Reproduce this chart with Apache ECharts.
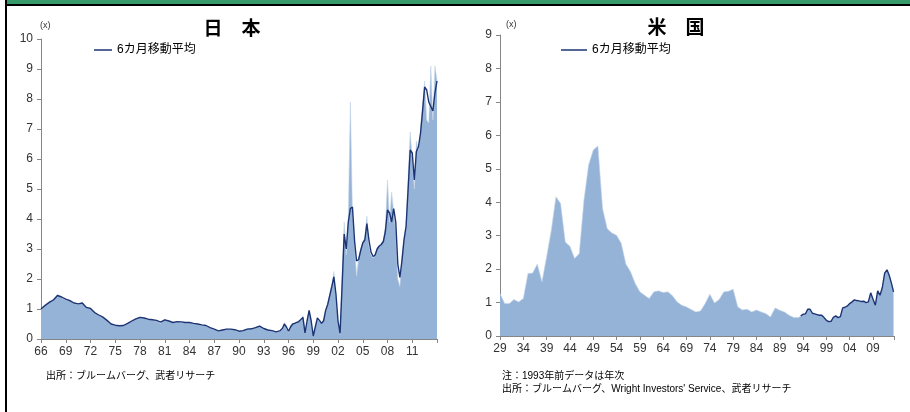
<!DOCTYPE html>
<html><head><meta charset="utf-8">
<script src="https://cdn.jsdelivr.net/npm/echarts@6/dist/echarts.min.js"></script>
<style>
html,body{margin:0;padding:0;background:#fff;}
#c{position:absolute;left:0;top:0;width:910px;height:412px;}
</style></head><body><div id="c"></div>
<script>
// ---- Japan (monthly data sampled; dates as decimal years) ----
const jpDates = [1966,1966.5,1967,1967.5,1968,1968.5,1969,1969.5,1970,1970.5,1971,1971.5,1972,1972.5,1973,1973.5,1974,1974.5,1975,1975.5,1976,1976.5,1977,1977.5,1978,1978.5,1979,1979.5,1980,1980.5,1981,1981.5,1982,1982.5,1983,1983.5,1984,1984.5,1985,1985.5,1986,1986.5,1987,1987.5,1988,1988.5,1989,1989.5,1990,1990.5,1991,1991.5,1992,1992.5,1993,1993.5,1994,1994.5,1995,
1995.25,1995.5,1995.75,1996,1996.25,1996.5,1996.75,1997,1997.25,1997.5,1997.75,1998,1998.25,1998.5,1998.75,1999,1999.25,1999.5,1999.75,2000,2000.25,2000.5,2000.75,2001,2001.25,2001.5,2001.75,2002,2002.25,2002.5,2002.75,2003,2003.25,2003.5,2003.75,2004,2004.25,2004.5,2004.75,2005,2005.25,2005.5,2005.75,2006,2006.25,2006.5,2006.75,2007,2007.25,2007.5,2007.75,2008,2008.25,2008.5,2008.75,2009,2009.25,2009.5,2009.75,2010,2010.25,2010.5,2010.75,2011,2011.25,2011.5,2011.75,2012,2012.25,2012.5,2012.75,2013,2013.25,2013.5,2013.75,2014];
const jpRatio = [0.98,1.10,1.25,1.32,1.48,1.38,1.30,1.30,1.18,1.15,1.22,1.02,1.04,0.86,0.79,0.72,0.60,0.49,0.45,0.44,0.46,0.53,0.61,0.68,0.73,0.69,0.65,0.63,0.60,0.52,0.66,0.58,0.54,0.57,0.56,0.54,0.54,0.51,0.49,0.46,0.44,0.37,0.32,0.26,0.31,0.33,0.32,0.30,0.25,0.29,0.34,0.33,0.39,0.44,0.34,0.30,0.27,0.23,0.27,
0.30,0.55,0.35,0.22,0.45,0.48,0.55,0.50,0.62,0.60,0.78,0.25,0.55,0.95,0.55,0.12,0.45,0.65,0.58,0.55,0.65,0.90,1.20,1.50,1.80,2.25,1.40,0.55,0.15,2.20,3.90,2.80,4.10,7.90,4.20,3.20,2.10,2.70,3.00,3.20,3.40,4.10,3.10,2.80,2.70,2.85,3.05,3.10,3.20,3.30,3.80,5.30,3.90,4.90,4.20,3.60,2.00,1.75,2.80,3.40,3.80,5.40,6.90,6.00,5.00,6.60,6.30,7.00,7.80,8.60,7.30,7.20,9.10,7.30,9.10,8.60];
const jpMA = [1.00,1.12,1.22,1.30,1.45,1.40,1.33,1.28,1.20,1.17,1.20,1.05,1.02,0.88,0.80,0.73,0.62,0.50,0.46,0.44,0.45,0.52,0.60,0.67,0.72,0.70,0.66,0.64,0.62,0.56,0.64,0.60,0.55,0.58,0.57,0.55,0.55,0.52,0.50,0.47,0.45,0.38,0.33,0.27,0.30,0.33,0.33,0.31,0.26,0.28,0.33,0.34,0.38,0.43,0.35,0.30,0.28,0.24,0.28,
0.35,0.50,0.40,0.26,0.40,0.50,0.52,0.55,0.58,0.65,0.72,0.20,0.60,0.95,0.60,0.10,0.40,0.70,0.62,0.52,0.60,0.95,1.15,1.45,1.75,2.07,1.50,0.60,0.19,1.80,3.50,3.00,3.90,4.35,4.40,3.30,2.60,2.65,2.95,3.20,3.30,3.85,3.30,2.90,2.75,2.80,3.00,3.10,3.15,3.25,3.60,4.30,4.20,3.90,4.35,3.90,2.50,2.05,2.60,3.30,3.75,5.00,6.30,6.20,5.30,6.25,6.40,6.85,7.60,8.40,8.30,7.90,7.75,7.60,8.20,8.60];

// ---- US (annual before 1993, then sampled monthly) ----
const usDates = [1929,1930,1931,1932,1933,1934,1935,1936,1937,1938,1939,1940,1941,1942,1943,1944,1945,1946,1947,1948,1949,1950,1951,1952,1953,1954,1955,1956,1957,1958,1959,1960,1961,1962,1963,1964,1965,1966,1967,1968,1969,1970,1971,1972,1973,1974,1975,1976,1977,1978,1979,1980,1981,1982,1983,1984,1985,1986,1987,1988,1989,1990,1991,1992,
1993,1993.5,1994,1994.5,1995,1995.5,1996,1996.5,1997,1997.5,1998,1998.5,1999,1999.5,2000,2000.5,2001,2001.5,2002,2002.5,2003,2003.5,2004,2004.5,2005,2005.5,2006,2006.5,2007,2007.5,2008,2008.5,2009,2009.5,2010,2010.5,2011,2011.5,2012,2012.5,2013,2013.4];
const usRatio = [1.27,0.97,0.97,1.09,1.02,1.12,1.87,1.88,2.15,1.62,2.37,3.16,4.16,3.96,2.81,2.68,2.32,2.47,4.06,5.11,5.56,5.68,3.81,3.21,3.08,3.01,2.77,2.15,1.92,1.57,1.32,1.22,1.12,1.32,1.35,1.30,1.32,1.20,1.02,0.92,0.87,0.79,0.72,0.75,0.97,1.25,0.99,1.09,1.32,1.34,1.40,0.87,0.78,0.80,0.72,0.78,0.72,0.67,0.57,0.84,0.77,0.72,0.62,0.55,
0.55,0.60,0.65,0.66,0.80,0.80,0.68,0.66,0.64,0.62,0.62,0.55,0.47,0.43,0.44,0.56,0.60,0.55,0.58,0.84,0.86,0.90,0.97,1.02,1.08,1.06,1.05,1.03,1.04,1.00,1.02,1.29,1.10,0.92,1.35,1.22,1.45,1.88,1.98,1.80,1.55,1.32];
const usMAStart = 1993.5; // moving average drawn from monthly period onward

// ---- ticks ----
const jpYMax = 10, usYMax = 9;

const FONT = '"Liberation Sans", Arial, "Noto Sans CJK JP", sans-serif';
const AREA = '#95b3d7', LINE = '#1c3474';

const jpAreaData = jpDates.map((d, i) => [d, jpRatio[i]]);
const jpLineData = jpDates.map((d, i) => [d, jpMA[i]]);
const usAreaData = usDates.map((d, i) => [d, usRatio[i]]);
const usLineData = usDates.map((d, i) => [d, usRatio[i]]).filter(p => p[0] >= usMAStart);

function xAxis(grid, min, max, interval, lastLabel) {
  return {
    gridIndex: grid, type: 'value', min: min, max: max, interval: interval,
    axisLine: {show: true, lineStyle: {color: '#868686', width: 1}},
    axisTick: {show: true, length: 4, lineStyle: {color: '#868686'}},
    axisLabel: {color: '#333', fontSize: 12, fontFamily: FONT, margin: 7,
      showMinLabel: true, showMaxLabel: true,
      formatter: v => (v > lastLabel || v % 1 !== 0) ? '' : String(v).slice(2)},
    splitLine: {show: false}
  };
}
function yAxis(grid, max) {
  return {
    gridIndex: grid, type: 'value', min: 0, max: max, interval: 1,
    axisLine: {show: true, lineStyle: {color: '#868686', width: 1}},
    axisTick: {show: true, length: 4, lineStyle: {color: '#868686'}},
    axisLabel: {color: '#333', fontSize: 12, fontFamily: FONT, margin: 8},
    splitLine: {show: false}
  };
}

const chart = echarts.init(document.getElementById('c'));
chart.setOption({
  animation: false,
  textStyle: {fontFamily: FONT},
  grid: [
    {left: 41, right: 473, top: 39, bottom: 73},
    {left: 500, right: 16, top: 35, bottom: 76}
  ],
  xAxis: [xAxis(0, 1966, 2014, 3, 2011), xAxis(1, 1929, 2013.5, 5, 2009)],
  yAxis: [yAxis(0, jpYMax), yAxis(1, usYMax)],
  legend: [
    {left: 94, top: 44, padding: 0, data: ['6カ月移動平均'], icon: 'rect', itemWidth: 18, itemHeight: 1.5,
     textStyle: {fontSize: 12, color: '#000', fontFamily: FONT}, selectedMode: false},
    {left: 561, top: 44, padding: 0, data: ['6カ月移動平均'], icon: 'rect', itemWidth: 26, itemHeight: 1.5,
     textStyle: {fontSize: 12, color: '#000', fontFamily: FONT}, selectedMode: false}
  ],
  series: [
    {name: '日本', type: 'line', xAxisIndex: 0, yAxisIndex: 0, data: jpAreaData, symbol: 'none',
     lineStyle: {width: 0.6, color: '#c5d5ea'}, areaStyle: {color: AREA, opacity: 1}, z: 2},
    {name: '6カ月移動平均', type: 'line', xAxisIndex: 0, yAxisIndex: 0, data: jpLineData, symbol: 'none',
     color: LINE, lineStyle: {width: 1.4, color: LINE}, z: 3},
    {name: '米国', type: 'line', xAxisIndex: 1, yAxisIndex: 1, data: usAreaData, symbol: 'none',
     lineStyle: {width: 0.6, color: '#c5d5ea'}, areaStyle: {color: AREA, opacity: 1}, z: 2},
    {name: '6カ月移動平均', type: 'line', xAxisIndex: 1, yAxisIndex: 1, data: usLineData, symbol: 'none',
     color: LINE, lineStyle: {width: 1.4, color: LINE}, z: 3}
  ],
  graphic: [
    {type: 'rect', shape: {x: 7, y: 0, width: 903, height: 4}, style: {fill: '#35996a'}, silent: true},
    {type: 'rect', shape: {x: 5, y: 4, width: 905, height: 2}, style: {fill: '#000'}, silent: true},
    {type: 'rect', shape: {x: 5, y: 0, width: 2, height: 412}, style: {fill: '#000'}, silent: true},
    {type: 'text', x: 232, y: 30, style: {text: '日　本', fill: '#000', font: 'bold 19px ' + FONT, align: 'center', verticalAlign: 'middle'}},
    {type: 'text', x: 676, y: 29, style: {text: '米　国', fill: '#000', font: 'bold 19px ' + FONT, align: 'center', verticalAlign: 'middle'}},
    {type: 'text', x: 40, y: 26, style: {text: '(x)', fill: '#333', font: '9px ' + FONT, align: 'left', verticalAlign: 'middle'}},
    {type: 'text', x: 506, y: 25, style: {text: '(x)', fill: '#333', font: '9px ' + FONT, align: 'left', verticalAlign: 'middle'}},
    {type: 'text', x: 46, y: 376, style: {text: '出所：ブルームバーグ、武者リサーチ', fill: '#000', font: '10px ' + FONT, align: 'left', verticalAlign: 'middle'}},
    {type: 'text', x: 502, y: 376, style: {text: '注：1993年前データは年次', fill: '#000', font: '10px ' + FONT, align: 'left', verticalAlign: 'middle'}},
    {type: 'text', x: 502, y: 389, style: {text: '出所：ブルームバーグ、Wright Investors\' Service、武者リサーチ', fill: '#000', font: '10px ' + FONT, align: 'left', verticalAlign: 'middle'}}
  ]
});
</script></body></html>
